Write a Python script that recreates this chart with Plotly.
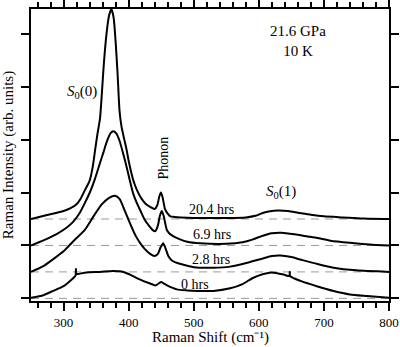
import plotly.graph_objects as go

# ---- data (absolute plotted values, offsets included) ----
x_204 = [250, 270, 290, 300, 310, 320, 326, 333, 340, 345,
         349, 352, 356, 359, 362, 366, 370, 373.5, 377, 380,
         383, 386, 389, 393, 397, 400, 404, 408, 412, 415,
         420, 426, 433, 440, 444, 447, 449.5, 452, 456, 460,
         464, 470, 480, 500, 550, 580, 595, 605, 615, 630,
         645, 660, 680, 700, 730, 760, 800]
y_204 = [1.50, 1.56, 1.62, 1.65, 1.70, 1.78, 1.88, 2.05, 2.22, 2.50,
         2.85, 3.10, 3.40, 3.90, 4.45, 5.00, 5.35, 5.47, 5.30, 4.85,
         4.25, 3.55, 3.25, 3.02, 2.80, 2.60, 2.38, 2.20, 2.07, 1.99,
         1.88, 1.79, 1.73, 1.69, 1.76, 1.92, 2.00, 1.92, 1.68, 1.60,
         1.55, 1.54, 1.53, 1.52, 1.52, 1.53, 1.56, 1.61, 1.64, 1.66,
         1.65, 1.62, 1.58, 1.55, 1.53, 1.51, 1.50]

x_69 = [250, 270, 290, 305, 315, 325, 333, 341, 348, 355,
        361, 367, 372, 376.5, 381, 386, 392, 397, 402, 407,
        412, 418, 425, 432, 437, 441, 445, 448, 451, 454,
        458.5, 463, 469, 478, 490, 510, 550, 575, 590, 605,
        620, 635, 655, 675, 690, 710, 740, 770, 800]
y_69 = [1.00, 1.10, 1.22, 1.34, 1.45, 1.62, 1.81, 2.02, 2.25, 2.52,
        2.75, 2.98, 3.12, 3.16, 3.12, 2.98, 2.72, 2.48, 2.22, 1.98,
        1.82, 1.66, 1.48, 1.36, 1.29, 1.27, 1.38, 1.56, 1.65, 1.55,
        1.30, 1.22, 1.17, 1.12, 1.07, 1.04, 1.03, 1.06, 1.11, 1.18,
        1.23, 1.24, 1.21, 1.17, 1.14, 1.09, 1.05, 1.02, 1.00]

x_28 = [250, 269, 284, 300, 315, 333, 346, 359, 370, 379,
        386, 394, 402, 410, 418, 425, 433, 440, 445, 449,
        453, 456, 461, 466, 472, 480, 500, 530, 556, 575,
        590, 605, 620, 633, 650, 665, 690, 715, 750, 800]
y_28 = [0.50, 0.61, 0.74, 0.89, 1.08, 1.30, 1.55, 1.78, 1.90, 1.94,
        1.88, 1.66, 1.42, 1.20, 1.04, 0.93, 0.84, 0.80, 0.84, 0.96,
        1.04, 0.97, 0.80, 0.72, 0.68, 0.65, 0.59, 0.58, 0.60, 0.65,
        0.70, 0.75, 0.80, 0.81, 0.78, 0.73, 0.65, 0.58, 0.53, 0.50]

x_0 = [250, 269, 284, 300, 310, 317, 318.5, 319, 319.5, 322, 335, 356, 376, 392, 402, 417, 433, 441,
       446, 450, 454, 459, 474, 490, 505, 530, 556, 575, 590, 607, 620, 638, 647, 647.5, 648, 664,
       689, 715, 740, 766, 800]
y_0 = [0.01, 0.06, 0.14, 0.23, 0.33, 0.41, 0.43, 0.56, 0.46, 0.46, 0.49, 0.50, 0.515, 0.50, 0.45, 0.36, 0.28, 0.245,
       0.28, 0.31, 0.28, 0.245, 0.17, 0.15, 0.14, 0.14, 0.19, 0.27, 0.38, 0.46, 0.49, 0.45, 0.42, 0.50, 0.42, 0.33,
       0.23, 0.14, 0.075, 0.045, 0.01]

series_x = [x_0, x_28, x_69, x_204]
series_y = [y_0, y_28, y_69, y_204]
series_labels = ["0 hrs", "2.8 hrs", "6.9 hrs", "20.4 hrs"]
baselines = [0.0, 0.5, 1.0, 1.5]
label_x = [502, 527, 528, 528]
label_y = [0.26, 0.74, 1.21, 1.68]

x_ticks = [300, 400, 500, 600, 700, 800]
y_ticks = [0, 1, 2, 3, 4, 5]

FONT = "Liberation Serif"

fig = go.Figure()

for b in baselines:
    fig.add_trace(go.Scatter(x=[250, 800], y=[b, b], mode="lines",
                             line=dict(color="#9a9a9a", width=1, dash="8px,6px"),
                             hoverinfo="skip", showlegend=False))

for xs, ys in zip(series_x, series_y):
    fig.add_trace(go.Scatter(x=xs, y=ys, mode="lines",
                             line=dict(color="black", width=2, shape="spline", smoothing=0.6),
                             showlegend=False))

ann = []
for t, ax_, ay_ in zip(series_labels, label_x, label_y):
    ann.append(dict(x=ax_, y=ay_, text=t, showarrow=False, font=dict(size=14, family=FONT, color="black")))
ann.append(dict(x=328, y=3.9, text="<i>S</i><sub>0</sub>(0)", showarrow=False,
                font=dict(size=15, family=FONT, color="black")))
ann.append(dict(x=634, y=2.02, text="<i>S</i><sub>0</sub>(1)", showarrow=False,
                font=dict(size=15, family=FONT, color="black")))
ann.append(dict(x=454, y=2.66, text="Phonon", textangle=-90, showarrow=False,
                font=dict(size=14, family=FONT, color="black")))
ann.append(dict(x=660, y=4.87, text="21.6 GPa<br>10 K", showarrow=False,
                font=dict(size=15, family=FONT, color="black")))
# x-axis title as a paper-anchored annotation (keeps it clear of the tick labels)
ann.append(dict(x=0.5, y=0, xref="paper", yref="paper", xanchor="center", yanchor="middle",
                yshift=-36, borderpad=0, text="Raman Shift (cm\u207b\u00b9)", showarrow=False,
                font=dict(size=15, family=FONT, color="black")))

fig.update_layout(
    template="none",
    width=400, height=347, autosize=False,
    margin=dict(l=31, r=11, t=9, b=46),
    plot_bgcolor="white", paper_bgcolor="white",
    font=dict(family=FONT, size=13, color="black"),
    annotations=ann,
    showlegend=False,
    xaxis=dict(range=[250, 800], tickvals=x_ticks, ticks="outside", ticklen=8, tickwidth=1.5,
               tickcolor="black", showline=True, linewidth=2, linecolor="black", mirror="ticks",
               showgrid=False, zeroline=False, automargin=False, tickfont=dict(size=13, family=FONT),
               minor=dict(dtick=20, tick0=0, ticks="outside", ticklen=5, tickwidth=1.5, tickcolor="black", showgrid=False)),
    yaxis=dict(range=[-0.05, 5.47], tickvals=y_ticks, showticklabels=False, ticks="outside", ticklen=8,
               tickwidth=1.5, tickcolor="black", showline=True, linewidth=2, linecolor="black",
               mirror="ticks", showgrid=False, zeroline=False, automargin=False,
               title=dict(text="Raman Intensity (arb. units)", font=dict(size=15, family=FONT))),
)

fig.write_html("out.html", config={"displayModeBar": False},
               post_script="document.body.style.margin='0';document.body.style.padding='0';")
